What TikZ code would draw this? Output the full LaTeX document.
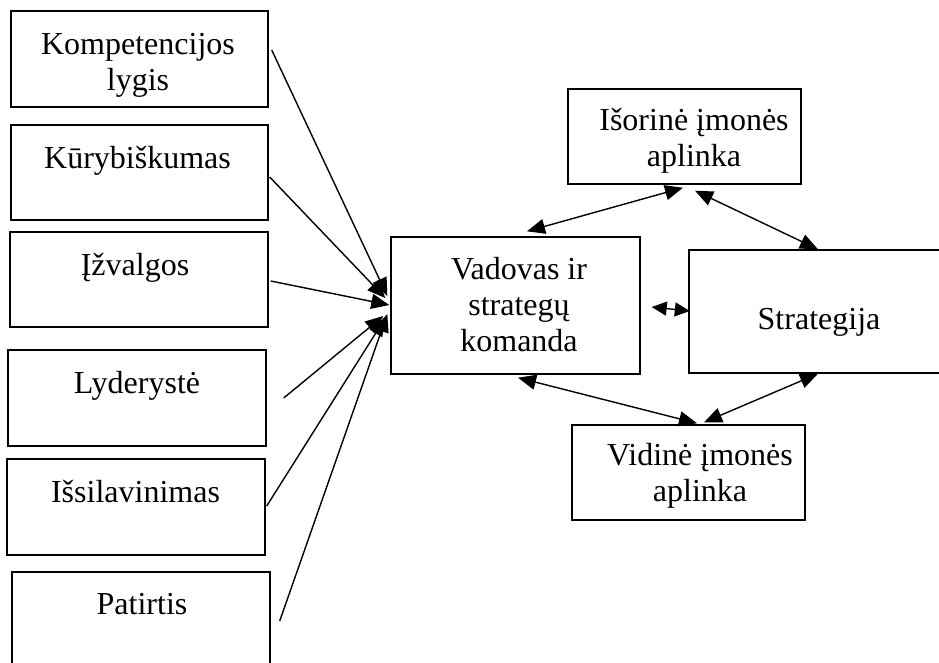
\documentclass[tikz,border=0pt]{standalone}
\usepackage{fontspec}
\setmainfont{Liberation Serif}
\usetikzlibrary{arrows.meta}

\tikzset{
  box/.style={draw, line width=1.4pt, inner sep=0pt},
  txt/.style={align=center, inner sep=0pt, font=\fontsize{32}{36}\selectfont},
  conn/.style={line width=1.4pt, -{Triangle[length=18pt,width=15pt]}},
  biconn/.style={line width=1.4pt, {Triangle[length=18pt,width=15pt]}-{Triangle[length=18pt,width=15pt]}},
  shortbiconn/.style={line width=1.4pt, {Triangle[length=15pt,width=14pt]}-{Triangle[length=15pt,width=14pt]}},
}

\begin{document}
\begin{tikzpicture}[x=1pt,y=-1pt]
\clip (0,0) rectangle (939,662);
\fill[white] (0,0) rectangle (939,662);

% personal qualities (left column)
\node[box, minimum width=257pt, minimum height=96pt] (k1) at (139.5,59) {};
\node[box, minimum width=257pt, minimum height=95pt] (k2) at (139.5,172.5) {};
\node[box, minimum width=258pt, minimum height=95pt] (k3) at (139,279.5) {};
\node[box, minimum width=258pt, minimum height=96pt] (k4) at (137,398) {};
\node[box, minimum width=258pt, minimum height=96pt] (k5) at (136,507) {};
\node[box, minimum width=258pt, minimum height=96pt] (k6) at (141,620) {};

\node[txt] (t1) at (138,64.8) {\strut Kompetencijos\\\strut lygis};
\node[txt] (t2) at (137.5,160.8) {\strut Kūrybiškumas};
\node[txt] (t3) at (135,267.8) {\strut Įžvalgos};
\node[txt] (t4) at (137,385.8) {\strut Lyderystė};
\node[txt] (t5) at (135.5,494.8) {\strut Išsilavinimas};
\node[txt] (t6) at (142,606.8) {\strut Patirtis};

% strategic core (right part)
\node[box, minimum width=249pt, minimum height=137pt] (lead) at (515.5,305.5) {};
\node[box, minimum width=233pt, minimum height=95pt] (ext) at (684.5,136.5) {};
\node[box, minimum width=260pt, minimum height=123pt] (strat) at (819,311.5) {};
\node[box, minimum width=233pt, minimum height=95pt] (int) at (688.5,472.5) {};

\node[txt] (leadT) at (519,308.5) {\strut Vadovas ir\\\strut strategų\\\strut komanda};
\node[txt] (extT) at (694,141.5) {\strut Išorinė įmonės\\\strut aplinka};
\node[txt] (stratT) at (819,322.5) {\strut Strategija};
\node[txt] (intT) at (700,476.5) {\strut Vidinė įmonės\\\strut aplinka};

% qualities feeding the leader
\draw[conn] ([shift={(3,-9)}]k1.east) -- ([shift={(-3,-9.5)}]lead.west);
\draw[conn] ([shift={(1,4.5)}]k2.east) -- ([shift={(-5,-7.5)}]lead.west);
\draw[conn] ([shift={(2,1.5)}]k3.east) -- ([shift={(-1,-0.5)}]lead.west);
\draw[conn] ([shift={(17,0)}]k4.east) -- ([shift={(-7,10.5)}]lead.west);
\draw[conn] ([shift={(1,-1)}]k5.east) -- ([shift={(-5,12.5)}]lead.west);
\draw[conn] ([shift={(9,1)}]k6.east) -- ([shift={(-3,8.5)}]lead.west);

% mutual links
\draw[biconn] ([shift={(11.5,-5)}]lead.north) -- ([shift={(-1.5,3)}]ext.south);
\draw[biconn] ([shift={(10.5,6)}]ext.south) -- ([shift={(-1,0)}]strat.north);
\draw[shortbiconn] ([shift={(11,1.5)}]lead.east) -- ([shift={(1.5,-0.5)}]strat.west);
\draw[biconn] ([shift={(2.5,3)}]lead.south) -- ([shift={(8.5,-1)}]int.north);
\draw[biconn] ([shift={(-1,0)}]strat.south) -- ([shift={(15.5,-2)}]int.north);
\end{tikzpicture}
\end{document}
